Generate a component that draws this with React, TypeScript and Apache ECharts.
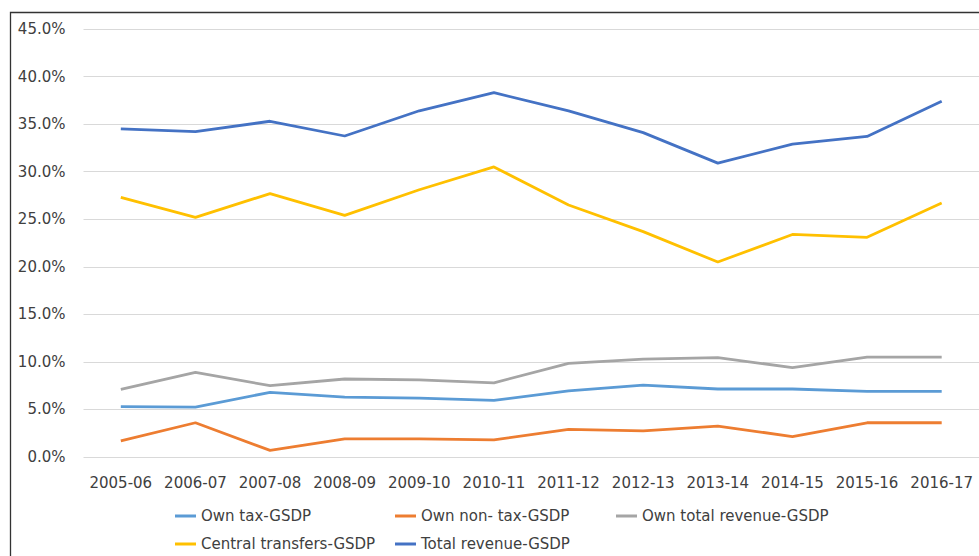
import React, { useEffect, useRef } from "react";
import * as echarts from "echarts";

const categories = ["2005-06", "2006-07", "2007-08", "2008-09", "2009-10", "2010-11", "2011-12", "2012-13", "2013-14", "2014-15", "2015-16", "2016-17"];
const ownTax = [5.3, 5.25, 6.8, 6.3, 6.2, 5.95, 6.95, 7.55, 7.15, 7.15, 6.9, 6.9];
const ownNonTax = [1.7, 3.6, 0.7, 1.9, 1.9, 1.8, 2.9, 2.75, 3.25, 2.15, 3.6, 3.6];
const ownTotal = [7.1, 8.9, 7.5, 8.2, 8.1, 7.8, 9.85, 10.3, 10.45, 9.4, 10.5, 10.5];
const centralTransfers = [27.3, 25.2, 27.7, 25.4, 28.1, 30.5, 26.5, 23.7, 20.5, 23.4, 23.1, 26.7];
const totalRevenue = [34.5, 34.2, 35.3, 33.75, 36.4, 38.3, 36.4, 34.1, 30.9, 32.9, 33.7, 37.4];

const names = ["Own tax-GSDP", "Own non- tax-GSDP", "Own total revenue-GSDP", "Central transfers-GSDP", "Total revenue-GSDP"];
const colors = ["#5B9BD5", "#ED7D31", "#A5A5A5", "#FFC000", "#4472C4"];
const values = [ownTax, ownNonTax, ownTotal, centralTransfers, totalRevenue];

const FONT = "DejaVu Sans";

export default function App() {
  const ref = useRef<HTMLDivElement>(null);
  useEffect(() => {
    if (!ref.current) return;
    const chart = echarts.init(ref.current, undefined, { renderer: "svg" });
    const legendBase = {
      orient: "vertical",
      top: 508,
      padding: 0,
      itemWidth: 21,
      itemHeight: 3,
      itemGap: 12,
      icon: "rect",
      textStyle: { fontFamily: FONT, fontSize: 15, color: "#404040", lineHeight: 16 },
    };
    chart.setOption({
      animation: false,
      backgroundColor: "#ffffff",
      color: colors,
      graphic: [
        {
          type: "polyline",
          shape: { points: [[10.5, 600], [10.5, 12.5], [1000, 12.5]] },
          style: { stroke: "#333333", lineWidth: 1.3, fill: "none" },
          silent: true,
        },
      ],
      legend: [
        { ...legendBase, left: 175, data: [names[0], names[3]] },
        { ...legendBase, left: 395, data: [names[1], names[4]] },
        { ...legendBase, left: 616, data: [names[2]] },
      ],
      grid: { left: 83.5, top: 29, bottom: 99, width: 900, containLabel: false },
      xAxis: {
        type: "category",
        data: categories,
        boundaryGap: true,
        axisLine: { show: false },
        axisTick: { show: false },
        axisLabel: { fontFamily: FONT, fontSize: 15, color: "#404040", margin: 18, interval: 0 },
      },
      yAxis: {
        type: "value",
        min: 0,
        max: 45,
        interval: 5,
        axisLine: { show: false },
        axisTick: { show: false },
        splitLine: { lineStyle: { color: "#D9D9D9", width: 1 } },
        axisLabel: {
          fontFamily: FONT,
          fontSize: 15,
          color: "#404040",
          margin: 18,
          formatter: (v: number) => v.toFixed(1) + "%",
        },
      },
      series: names.map((n, i) => ({
        name: n,
        type: "line",
        data: values[i],
        symbol: "none",
        lineStyle: { width: 2.8, color: colors[i] },
        itemStyle: { color: colors[i] },
      })),
    });
    return () => chart.dispose();
  }, []);
  return <div ref={ref} style={{ position: "fixed", left: 0, top: 0, width: 979, height: 556 }} />;
}
